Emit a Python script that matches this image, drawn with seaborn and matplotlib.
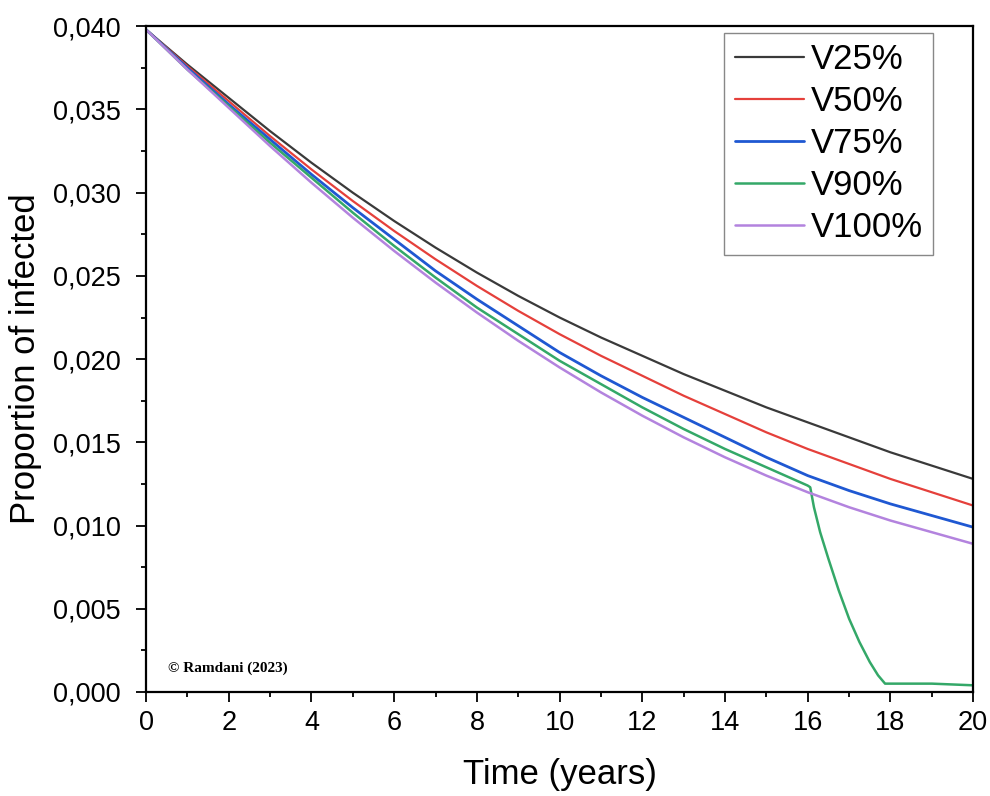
import matplotlib
matplotlib.use("Agg")
import matplotlib.pyplot as plt
import matplotlib.ticker as mticker
import numpy as np
import pandas as pd
import seaborn as sns

# time grid (years) for the smooth curves
years = list(range(0, 21))

v25 = [0.0398, 0.0377, 0.0357, 0.0337, 0.0318, 0.0300, 0.0283, 0.0267, 0.0252, 0.0238,
       0.0225, 0.0213, 0.0202, 0.0191, 0.0181, 0.0171, 0.0162, 0.0153, 0.0144, 0.0136, 0.0128]
v50 = [0.0398, 0.0376, 0.0355, 0.0334, 0.0314, 0.0295, 0.0277, 0.0260, 0.0244, 0.0229,
       0.0215, 0.0202, 0.0190, 0.0178, 0.0167, 0.0156, 0.0146, 0.0137, 0.0128, 0.0120, 0.0112]
v75 = [0.0398, 0.0375, 0.0353, 0.0332, 0.0311, 0.0291, 0.0272, 0.0253, 0.0236, 0.0220,
       0.0204, 0.0190, 0.0177, 0.0165, 0.0153, 0.0141, 0.0130, 0.0121, 0.0113, 0.0106, 0.0099]
v100 = [0.0398, 0.0374, 0.0351, 0.0328, 0.0306, 0.0285, 0.0265, 0.0246, 0.0228, 0.0211,
        0.0195, 0.0180, 0.0166, 0.0153, 0.0141, 0.0130, 0.0120, 0.0111, 0.0103, 0.0096, 0.0089]

# V90 has its own time points (sharp drop after year 16)
years_v90 = list(range(0, 17)) + [16.06, 16.15, 16.3, 16.5, 16.75, 17.0, 17.25, 17.5, 17.7, 17.87, 19.0, 20.0]
v90 = [0.0398, 0.0374, 0.0352, 0.0330, 0.0309, 0.0288, 0.0268, 0.0249, 0.0231, 0.0215,
       0.0199, 0.0185, 0.0171, 0.0158, 0.0146, 0.0135, 0.0124,
       0.0123, 0.0111, 0.0096, 0.0080, 0.0061, 0.0044, 0.0030, 0.0018, 0.0010, 0.0005, 0.0005, 0.0004]

labels = ["V25%", "V50%", "V75%", "V90%", "V100%"]
colors = {"V25%": "#3a3a3a", "V50%": "#e5403b", "V75%": "#1f58d2",
          "V90%": "#34a868", "V100%": "#b383de"}
widths = {"V25%": 1.6, "V50%": 1.6, "V75%": 2.0, "V90%": 1.8, "V100%": 1.8}

frames = []
for name, xs, ys in [("V25%", years, v25), ("V50%", years, v50), ("V75%", years, v75),
                     ("V90%", years_v90, v90), ("V100%", years, v100)]:
    frames.append(pd.DataFrame({"t": xs, "p": ys, "series": name}))
df = pd.concat(frames, ignore_index=True)

sns.set_style("ticks")
plt.rcParams["font.family"] = ["Liberation Sans", "DejaVu Sans"]
plt.rcParams["text.color"] = "black"
plt.rcParams["axes.labelcolor"] = "black"
plt.rcParams["xtick.color"] = "black"
plt.rcParams["ytick.color"] = "black"

fig = plt.figure(figsize=(9.9, 7.96), dpi=100)
ax = fig.add_axes([0.1475, 0.1307, 0.8355, 0.8363])

for name in labels:
    sub = df[df["series"] == name]
    sns.lineplot(data=sub, x="t", y="p", ax=ax, color=colors[name], linewidth=widths[name],
                 sort=False, estimator=None, label=name)

ax.set_xlim(0, 20)
ax.set_ylim(0, 0.040)
ax.xaxis.set_major_locator(mticker.MultipleLocator(2))
ax.xaxis.set_minor_locator(mticker.MultipleLocator(1))
ax.yaxis.set_major_locator(mticker.MultipleLocator(0.005))
ax.yaxis.set_minor_locator(mticker.MultipleLocator(0.0025))
ax.yaxis.set_major_formatter(mticker.FuncFormatter(lambda v, _: f"{v:.3f}".replace(".", ",")))

ax.tick_params(which="major", direction="out", length=7, width=1.3, labelsize=19.5, pad=11)
ax.tick_params(axis="x", which="major", pad=6)
ax.tick_params(which="minor", direction="out", length=3.8, width=1.3)
for side in ["left", "right", "top", "bottom"]:
    ax.spines[side].set_visible(True)
    ax.spines[side].set_linewidth(1.6)
    ax.spines[side].set_color("black")

ax.set_xlabel("Time (years)", fontsize=25, labelpad=16)
ax.set_ylabel("Proportion of infected", fontsize=25, labelpad=8)

ax.text(0.53, 0.0014, "\u00a9 Ramdani (2023)", fontsize=11, fontweight="bold",
        family=["Liberation Serif", "DejaVu Serif"], va="center", ha="left")

leg = ax.legend(loc="upper right", bbox_to_anchor=(0.952, 0.99), fontsize=25, frameon=True,
                fancybox=False, edgecolor="#888888", framealpha=1, labelspacing=0.26,
                handlelength=2.0, handletextpad=0.2, borderpad=0.3, borderaxespad=0)
leg.get_frame().set_linewidth(1.0)

fig.savefig("out.png", dpi=100)
